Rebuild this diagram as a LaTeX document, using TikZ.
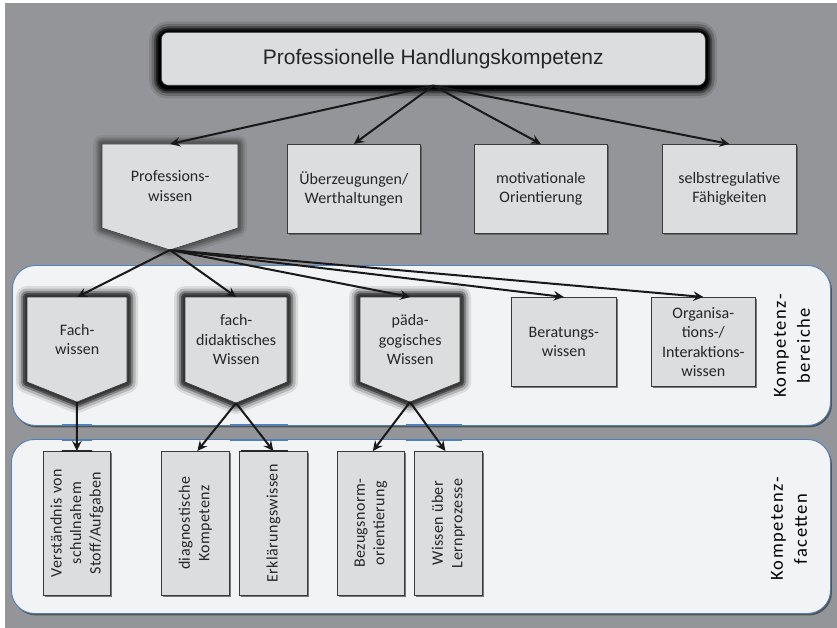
\documentclass[tikz,border=0pt]{standalone}
\usepackage{fontspec}
\setmainfont{Carlito}
\newfontfamily\titlefont{Liberation Sans}
\newfontfamily\spacedfont[LetterSpace=2.5]{Carlito}
\newfontfamily\widefont[LetterSpace=8]{Carlito}
\usetikzlibrary{arrows.meta,shadows}
\definecolor{bggray}{HTML}{939598}
\definecolor{boxfill}{HTML}{DCDDDF}
\definecolor{panelfill}{HTML}{F2F3F5}
\definecolor{panelblue}{HTML}{4F81BD}
\definecolor{boxborder}{HTML}{3A3A3A}
\definecolor{txt}{HTML}{262626}
\definecolor{glowdark}{HTML}{333333}
\definecolor{glowmid}{HTML}{555555}
\newcommand\pentagon[7]{%
  \foreach \w/\o in {#7}{\draw[draw=#6, line width=\w pt, opacity=\o, line join=round] (#1,#3) -- (#2,#3) -- (#2,#4) -- ({(#1+#2)/2},#5) -- (#1,#4) -- cycle;}
  \draw[fill=boxfill, draw=boxborder, line width=0.6pt] (#1,#3) -- (#2,#3) -- (#2,#4) -- ({(#1+#2)/2},#5) -- (#1,#4) -- cycle;
}
\tikzset{
  panel/.style={draw=panelblue, line width=0.9pt, fill=panelfill, rounded corners=23pt, inner sep=0,
    drop shadow={shadow xshift=1.5pt, shadow yshift=-2pt, fill=black!70, opacity=0.9}},
  plainbox/.style={draw=boxborder, line width=0.7pt, fill=boxfill, inner sep=0, anchor=north west,
    drop shadow={shadow xshift=1.5pt, shadow yshift=-1.5pt, fill=black!65, opacity=0.8}},
  lbl/.style={font=\fontsize{16}{19.5}\selectfont, align=center, text=txt, inner sep=0},
  area/.style={inner sep=0, anchor=north west},
  vlbl/.style={font=\spacedfont\fontsize{16}{19.5}\selectfont, align=center, rotate=90, text=txt, inner sep=0},
  sidelbl/.style={font=\widefont\fontsize{18.5}{24}\selectfont, align=center, rotate=90, text=black, inner sep=0},
  arr/.style={-{Stealth[length=10pt,width=9.5pt,inset=3.5pt]}, line width=2pt, draw=black!90},
  artblue/.style={draw=panelblue, line width=2pt},
  artblack/.style={draw=black!85, line width=2pt}
}
\begin{document}
\begin{tikzpicture}[x=1pt,y=-1pt]
\useasboundingbox (0,0) rectangle (837,628);
\fill[white] (0,0) rectangle (837,628);
\fill[bggray] (5,3) rectangle (837,628);

% panels
\node[panel, minimum width=818pt, minimum height=160pt, anchor=north west] (P1) at (12,265) {};
\node[panel, minimum width=819pt, minimum height=174pt, anchor=north west] (P2) at (11,439) {};
\foreach \a/\b in {62/92,230/288,406/462}{
  \draw[artblue] (\a,424.5) -- (\b,424.5);
  \draw[artblue] (\a,439.5) -- (\b,439.5);
}
\node[sidelbl] (KB) at (792,346) {Kompetenz-\\bereiche};
\node[sidelbl] (KF) at (789,529) {Kompetenz-\\facetten};

% top box with black glow
\foreach \w/\o in {24/0.1,19/0.2,14/0.35,10/0.6,6/1}
  \draw[line width=\w pt, draw=black, opacity=\o, rounded corners=7pt] (161,33.5) rectangle (705,86.5);
\node[draw=black!80, line width=0.6pt, fill=boxfill, rounded corners=7pt, minimum width=544pt, minimum height=53pt,
  inner sep=0, anchor=north west, font=\titlefont\fontsize{21}{24}\selectfont, text=txt] (TOP) at (161,32)
  {Professionelle Handlungskompetenz};

% row 1
\pentagon{102}{238}{144}{228}{250}{glowmid}{18/0.15,13/0.3,9/0.5,5/0.8}
\node[lbl, area, minimum width=136pt, minimum height=84pt] (PW) at (102,144) {Professions-\\wissen};
\coordinate (PWtip) at (170,250);
\node[plainbox, lbl, minimum width=133pt, minimum height=89pt] (UEB) at (287,144) {Überzeugungen/\\Werthaltungen};
\node[plainbox, lbl, minimum width=133pt, minimum height=89pt] (MOT) at (474,144) {motivationale\\Orientierung};
\node[plainbox, lbl, minimum width=134pt, minimum height=89pt] (SELF) at (662,144) {selbstregulative\\Fähigkeiten};

\draw[arr] (TOP.south) -- (PW.north);
\draw[arr] (TOP.south) -- (UEB.north);
\draw[arr] (TOP.south) -- (MOT.north);
\draw[arr] (TOP.south) -- (SELF.north);

% row 2
\pentagon{27}{127}{297}{382}{402}{glowdark}{22/0.12,17/0.22,12/0.4,8/0.7,4/0.9}
\pentagon{185}{287}{297}{382}{403}{glowdark}{22/0.12,17/0.22,12/0.4,8/0.7,4/0.9}
\pentagon{360}{460}{297}{382}{402}{glowdark}{22/0.12,17/0.22,12/0.4,8/0.7,4/0.9}
\node[lbl, area, minimum width=100pt, minimum height=85pt] (FACH) at (27,297) {Fach-\\wissen};
\node[lbl, area, minimum width=102pt, minimum height=85pt] (FDID) at (185,297) {fach-\\didaktisches\\Wissen};
\node[lbl, area, minimum width=100pt, minimum height=85pt] (PAED) at (360,297) {päda-\\gogisches\\Wissen};
\coordinate (FACHtip) at (77,402);
\coordinate (FDIDtip) at (236,403);
\coordinate (PAEDtip) at (410,402);
\node[plainbox, lbl, minimum width=105pt, minimum height=89pt] (BER) at (511,297) {Beratungs-\\wissen};
\node[plainbox, lbl, minimum width=104pt, minimum height=89pt] (ORG) at (651,297) {Organisa-\\tions-/\\Interaktions-\\wissen};

\draw[arr] (PWtip) -- (FACH.north);
\draw[arr] (PWtip) -- (FDID.north);
\draw[arr] (PWtip) -- (PAED.north);
\draw[arr] (PWtip) -- (BER.north);
\draw[arr] (PWtip) -- (ORG.north);

% row 3
\node[plainbox, minimum width=67pt, minimum height=144pt] (V) at (43,451) {};
\node[plainbox, minimum width=68pt, minimum height=144pt] (D) at (161,451) {};
\node[plainbox, minimum width=68pt, minimum height=144pt] (E) at (239,451) {};
\node[plainbox, minimum width=67pt, minimum height=144pt] (B) at (337,451) {};
\node[plainbox, minimum width=68pt, minimum height=144pt] (W) at (414,451) {};
\draw[artblack] (62,451) -- (92,451);
\draw[artblack] (241,451) -- (288,451);
\node[vlbl] (Vt) at (V.center) {Verständnis von\\schulnahem\\Stoff/Aufgaben};
\node[vlbl] (Dt) at (D.center) {diagnostische\\Kompetenz};
\node[vlbl] (Et) at (E.center) {Erklärungswissen};
\node[vlbl] (Bt) at (B.center) {Bezugsnorm-\\orientierung};
\node[vlbl] (Wt) at (W.center) {Wissen über\\Lernprozesse};

\draw[arr] (FACHtip) -- (V.north);
\draw[arr] (FDIDtip) -- ([xshift=2pt]D.north);
\draw[arr] (FDIDtip) -- (E.north);
\draw[arr] (PAEDtip) -- ([xshift=2pt]B.north);
\draw[arr] (PAEDtip) -- ([xshift=-3pt]W.north);
\end{tikzpicture}
\end{document}
